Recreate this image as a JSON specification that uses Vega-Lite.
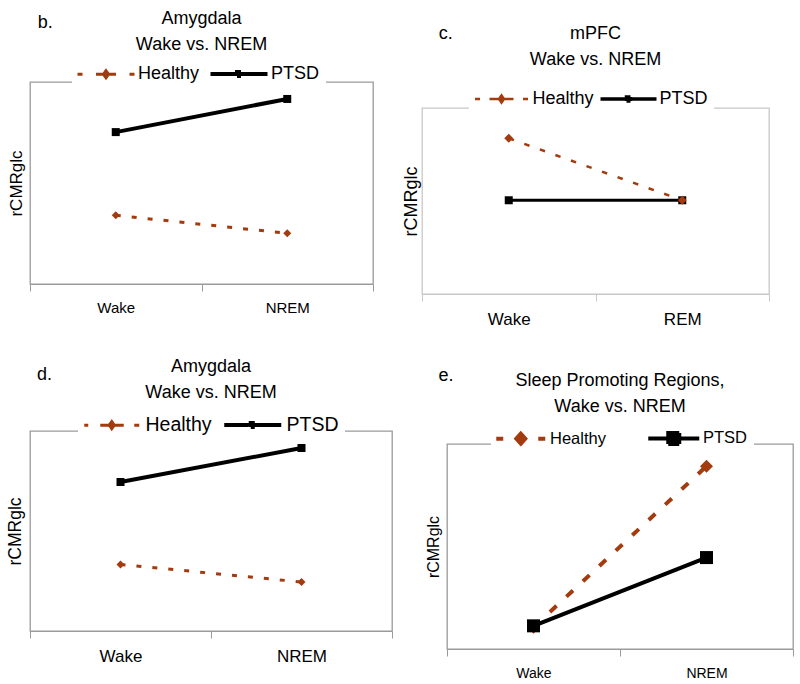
{
  "$schema": "https://vega.github.io/schema/vega-lite/v6.json",
  "padding": {"left": 5, "top": 9, "right": 0, "bottom": 0},
  "background": "white",
  "spacing": 29,
  "resolve": {"scale": {"color": "independent"}, "legend": {"color": "independent"}},
  "config": {
    "font": "Liberation Sans",
    "view": {"stroke": "#9b9b9b", "strokeWidth": 1.3},
    "title": {"fontSize": 18, "fontWeight": "normal", "lineHeight": 26, "color": "black", "anchor": "middle", "subtitleFontSize": 18, "subtitleColor": "black", "subtitleFont": "Liberation Sans", "subtitleFontWeight": "normal", "subtitlePadding": 8},
    "axisX": {"domainColor": "#9b9b9b", "tickColor": "#9b9b9b", "tickSize": 7, "labelColor": "black", "grid": false, "title": null, "labelAngle": 0},
    "axisY": {"domain": false, "ticks": false, "labels": false, "grid": false, "titleColor": "black", "titleFontWeight": "normal", "tickSize": 0},
    "legend": {"orient": "none", "direction": "horizontal", "fillColor": "white", "padding": 6, "labelColor": "black", "labelLimit": 0}
  },
  "vconcat": [
    {
      "spacing": 26,
      "resolve": {"scale": {"color": "independent"}, "legend": {"color": "independent"}},
      "hconcat": [
        {
          "width": 343, "height": 202,
          "title": {"text": ["Amygdala", "Wake vs. NREM"], "offset": -40},
          "data": {"values": [
            {"stage": "Wake", "group": "PTSD", "value": 75.2},
            {"stage": "NREM", "group": "PTSD", "value": 91.6},
            {"stage": "Wake", "group": "Healthy", "value": 34.0},
            {"stage": "NREM", "group": "Healthy", "value": 25.1}
          ]},
          "encoding": {
            "x": {"field": "stage", "type": "nominal", "sort": ["Wake", "NREM"], "scale": {"paddingInner": 0, "paddingOuter": 0}, "axis": {"labelFontSize": 15, "labelPadding": 9, "tickBand": "extent"}},
            "y": {"field": "value", "type": "quantitative", "scale": {"domain": [0, 100], "nice": false, "zero": false}, "axis": {"title": "rCMRglc", "titleFontSize": 17, "titlePadding": 5}},
            "color": {"field": "group", "type": "nominal", "scale": {"domain": ["Healthy", "PTSD"], "range": ["#A33B0E", "#000000"]},
              "legend": {"title": null, "legendX": 42, "legendY": -23, "labelFontSize": 18, "columnPadding": 2, "symbolOffset": 19, "labelOffset": 23,
                "encode": {"symbols": {"update": {
                  "shape": {"signal": "datum.value === 'Healthy' ? 'M-5.7,0L-4.7,0M-2,0L2,0M4.7,0L5.7,0M0,-0.7L0.5,0L0,0.7L-0.5,0Z' : 'M-5.7,0L5.7,0M-0.4,-0.4L0.4,-0.4L0.4,0.4L-0.4,0.4Z'"},
                  "fill": {"signal": "datum.value === 'Healthy' ? '#A33B0E' : '#000000'"},
                  "stroke": {"signal": "datum.value === 'Healthy' ? '#A33B0E' : '#000000'"},
                  "strokeWidth": {"signal": "datum.value === 'Healthy' ? 3 : 4"},
                  "strokeDash": {"value": [1, 0]},
                  "opacity": {"value": 1}
                }}}}}
          },
          "layer": [
            {"transform": [{"filter": "datum.group === 'Healthy'"}], "mark": {"type": "line", "strokeDash": [5, 11], "strokeWidth": 3}},
            {"transform": [{"filter": "datum.group === 'PTSD'"}], "mark": {"type": "line", "strokeWidth": 4}},
            {"transform": [{"filter": "datum.group === 'Healthy'"}], "mark": {"type": "point", "shape": "diamond", "filled": true, "opacity": 1, "size": 64}},
            {"transform": [{"filter": "datum.group === 'PTSD'"}], "mark": {"type": "point", "shape": "square", "filled": true, "opacity": 1, "size": 64}},
            {"transform": [{"filter": "datum.group === 'PTSD' && datum.stage === 'Wake'"}], "mark": {"type": "text", "align": "left", "baseline": "alphabetic", "fontSize": 18, "dx": -78, "color": "black"},
              "encoding": {"y": {"datum": 126.7, "type": "quantitative"}, "text": {"value": "b."}, "color": {"value": "black"}}}
          ]
        },
        {
          "spacing": -73,
          "resolve": {"scale": {"color": "independent"}, "legend": {"color": "independent"}},
          "vconcat": [
            {"width": 1, "height": 1, "data": {"values": []}, "mark": "point", "view": {"stroke": null}},
            {
              "width": 347, "height": 186,
              "view": {"stroke": "#c8c8c8"},
              "title": {"text": ["", "mPFC"], "lineHeight": 14, "subtitle": "Wake vs. NREM", "offset": -44},
              "data": {"values": [
                {"stage": "Wake", "group": "PTSD", "value": 50.4},
                {"stage": "REM", "group": "PTSD", "value": 50.4},
                {"stage": "Wake", "group": "Healthy", "value": 83.7},
                {"stage": "REM", "group": "Healthy", "value": 50.4}
              ]},
              "encoding": {
                "x": {"field": "stage", "type": "nominal", "sort": ["Wake", "REM"], "scale": {"paddingInner": 0, "paddingOuter": 0}, "axis": {"labelFontSize": 17, "labelPadding": 10, "domainColor": "#c8c8c8", "tickColor": "#c8c8c8", "tickBand": "extent"}},
                "y": {"field": "value", "type": "quantitative", "scale": {"domain": [0, 100], "nice": false, "zero": false}, "axis": {"title": "rCMRglc", "titleFontSize": 18, "titlePadding": 2}},
                "color": {"field": "group", "type": "nominal", "scale": {"domain": ["Healthy", "PTSD"], "range": ["#A33B0E", "#000000"]},
                  "legend": {"title": null, "legendX": 47, "legendY": -24, "labelFontSize": 18, "columnPadding": -1, "symbolOffset": 17.5, "labelOffset": 22,
                    "encode": {"symbols": {"update": {
                      "shape": {"signal": "datum.value === 'Healthy' ? 'M-5.3,0L-4.3,0M-2.4,0L2.4,0M4.3,0L5.3,0M0,-0.7L0.5,0L0,0.7L-0.5,0Z' : 'M-5.6,0L5.6,0M-0.4,-0.4L0.4,-0.4L0.4,0.4L-0.4,0.4Z'"},
                      "fill": {"signal": "datum.value === 'Healthy' ? '#A33B0E' : '#000000'"},
                      "stroke": {"signal": "datum.value === 'Healthy' ? '#A33B0E' : '#000000'"},
                      "strokeWidth": {"signal": "datum.value === 'Healthy' ? 2.5 : 3.5"},
                      "strokeDash": {"value": [1, 0]},
                      "opacity": {"value": 1}
                    }}}}}
              },
              "layer": [
                {"transform": [{"filter": "datum.group === 'PTSD'"}], "mark": {"type": "line", "strokeWidth": 3}},
                {"transform": [{"filter": "datum.group === 'Healthy'"}], "mark": {"type": "line", "strokeDash": [5.5, 11], "strokeWidth": 2.5}},
                {"transform": [{"filter": "datum.group === 'PTSD'"}], "mark": {"type": "point", "shape": "square", "filled": true, "opacity": 1, "size": 64}},
                {"transform": [{"filter": "datum.group === 'Healthy'"}], "mark": {"type": "point", "shape": "diamond", "filled": true, "opacity": 1, "size": 81}},
                {"transform": [{"filter": "datum.group === 'PTSD' && datum.stage === 'Wake'"}], "mark": {"type": "text", "align": "left", "baseline": "alphabetic", "fontSize": 18, "dx": -70, "color": "black"},
                  "encoding": {"y": {"datum": 137.1, "type": "quantitative"}, "text": {"value": "c."}, "color": {"value": "black"}}}
              ]
            }
          ]
        }
      ]
    },
    {
      "spacing": 30,
      "resolve": {"scale": {"color": "independent"}, "legend": {"color": "independent"}},
      "hconcat": [
        {
          "width": 362, "height": 200,
          "title": {"text": ["Amygdala", "Wake vs. NREM"], "offset": -36},
          "data": {"values": [
            {"stage": "Wake", "group": "PTSD", "value": 74.5},
            {"stage": "NREM", "group": "PTSD", "value": 91.5},
            {"stage": "Wake", "group": "Healthy", "value": 33.3},
            {"stage": "NREM", "group": "Healthy", "value": 24.5}
          ]},
          "encoding": {
            "x": {"field": "stage", "type": "nominal", "sort": ["Wake", "NREM"], "scale": {"paddingInner": 0, "paddingOuter": 0}, "axis": {"labelFontSize": 17, "labelPadding": 10, "tickBand": "extent"}},
            "y": {"field": "value", "type": "quantitative", "scale": {"domain": [0, 100], "nice": false, "zero": false}, "axis": {"title": "rCMRglc", "titleFontSize": 17.5, "titlePadding": 6}},
            "color": {"field": "group", "type": "nominal", "scale": {"domain": ["Healthy", "PTSD"], "range": ["#A33B0E", "#000000"]},
              "legend": {"title": null, "legendX": 48, "legendY": -22, "labelFontSize": 19.5, "columnPadding": 4, "symbolOffset": 18, "labelOffset": 24,
                "encode": {"symbols": {"update": {
                  "shape": {"signal": "datum.value === 'Healthy' ? 'M-5.5,0L-4.7,0M-2.3,0L2.4,0M4.5,0L5.5,0M0,-0.7L0.5,0L0,0.7L-0.5,0Z' : 'M-5.7,0L5.7,0M-0.4,-0.4L0.4,-0.4L0.4,0.4L-0.4,0.4Z'"},
                  "fill": {"signal": "datum.value === 'Healthy' ? '#A33B0E' : '#000000'"},
                  "stroke": {"signal": "datum.value === 'Healthy' ? '#A33B0E' : '#000000'"},
                  "strokeWidth": {"signal": "datum.value === 'Healthy' ? 3 : 4"},
                  "strokeDash": {"value": [1, 0]},
                  "opacity": {"value": 1}
                }}}}}
          },
          "layer": [
            {"transform": [{"filter": "datum.group === 'Healthy'"}], "mark": {"type": "line", "strokeDash": [5, 11], "strokeWidth": 3}},
            {"transform": [{"filter": "datum.group === 'PTSD'"}], "mark": {"type": "line", "strokeWidth": 4}},
            {"transform": [{"filter": "datum.group === 'Healthy'"}], "mark": {"type": "point", "shape": "diamond", "filled": true, "opacity": 1, "size": 64}},
            {"transform": [{"filter": "datum.group === 'PTSD'"}], "mark": {"type": "point", "shape": "square", "filled": true, "opacity": 1, "size": 64}},
            {"transform": [{"filter": "datum.group === 'PTSD' && datum.stage === 'Wake'"}], "mark": {"type": "text", "align": "left", "baseline": "alphabetic", "fontSize": 18, "dx": -83.5, "color": "black"},
              "encoding": {"y": {"datum": 125.5, "type": "quantitative"}, "text": {"value": "d."}, "color": {"value": "black"}}}
          ]
        },
        {
          "spacing": -75,
          "resolve": {"scale": {"color": "independent"}, "legend": {"color": "independent"}},
          "vconcat": [
            {"width": 1, "height": 1, "data": {"values": []}, "mark": "point", "view": {"stroke": null}},
            {
              "width": 346, "height": 205,
              "title": {"text": ["", "Sleep Promoting Regions,"], "lineHeight": 14, "subtitle": "Wake vs. NREM", "offset": -49},
              "data": {"values": [
                {"stage": "Wake", "group": "Healthy", "value": 10.6},
                {"stage": "NREM", "group": "Healthy", "value": 89.2},
                {"stage": "Wake", "group": "PTSD", "value": 11.3},
                {"stage": "NREM", "group": "PTSD", "value": 44.6}
              ]},
              "encoding": {
                "x": {"field": "stage", "type": "nominal", "sort": ["Wake", "NREM"], "scale": {"paddingInner": 0, "paddingOuter": 0}, "axis": {"labelFontSize": 14, "labelPadding": 10, "tickBand": "extent"}},
                "y": {"field": "value", "type": "quantitative", "scale": {"domain": [0, 100], "nice": false, "zero": false}, "axis": {"title": "rCMRglc", "titleFontSize": 16, "titlePadding": 6}},
                "color": {"field": "group", "type": "nominal", "scale": {"domain": ["Healthy", "PTSD"], "range": ["#A33B0E", "#000000"]},
                  "legend": {"title": null, "legendX": 44, "legendY": -20, "labelFontSize": 16.5, "columnPadding": 34, "symbolOffset": 15.5, "labelOffset": 21,
                    "encode": {"symbols": {"update": {
                      "shape": {"signal": "datum.value === 'Healthy' ? 'M-4.9,0L-3.5,0M3.5,0L4.9,0M0,-1.0L0.9,0L0,1.0L-0.9,0Z' : 'M-5.1,0L5.1,0M-1.1,-1.1L1.1,-1.1L1.1,1.1L-1.1,1.1Z'"},
                      "fill": {"signal": "datum.value === 'Healthy' ? '#A33B0E' : '#000000'"},
                      "stroke": {"signal": "datum.value === 'Healthy' ? '#A33B0E' : '#000000'"},
                      "strokeWidth": {"value": 4},
                      "strokeDash": {"value": [1, 0]},
                      "opacity": {"value": 1}
                    }}}}}
              },
              "layer": [
                {"transform": [{"filter": "datum.group === 'Healthy'"}], "mark": {"type": "line", "strokeDash": [9, 13.5], "strokeWidth": 4}},
                {"transform": [{"filter": "datum.group === 'PTSD'"}], "mark": {"type": "line", "strokeWidth": 4}},
                {"transform": [{"filter": "datum.group === 'Healthy'"}], "mark": {"type": "point", "shape": "diamond", "filled": true, "opacity": 1, "size": 169}},
                {"transform": [{"filter": "datum.group === 'PTSD'"}], "mark": {"type": "point", "shape": "square", "filled": true, "opacity": 1, "size": 169}},
                {"transform": [{"filter": "datum.group === 'PTSD' && datum.stage === 'Wake'"}], "mark": {"type": "text", "align": "left", "baseline": "alphabetic", "fontSize": 18, "dx": -95, "color": "black"},
                  "encoding": {"y": {"datum": 130.7, "type": "quantitative"}, "text": {"value": "e."}, "color": {"value": "black"}}}
              ]
            }
          ]
        }
      ]
    }
  ]
}
